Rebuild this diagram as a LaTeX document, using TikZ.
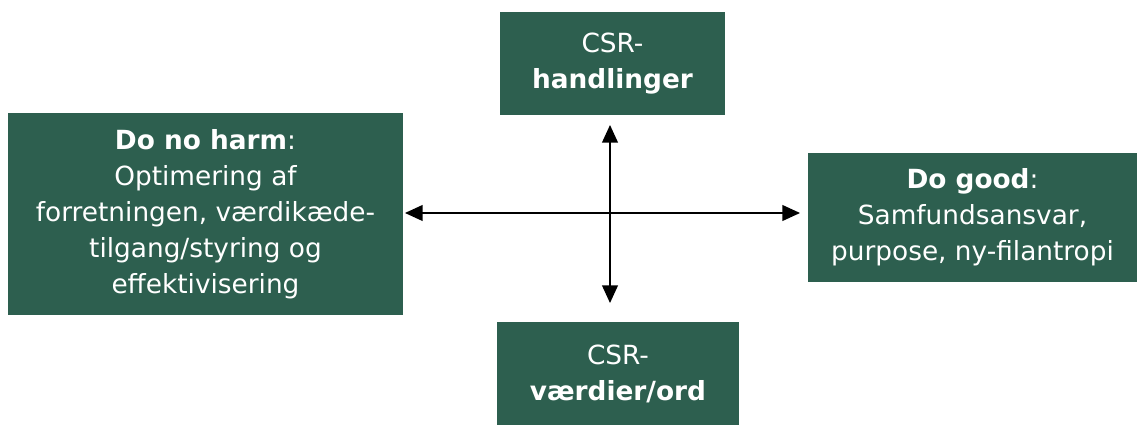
\documentclass[tikz,border=0pt]{standalone}
\usepackage{fontspec}
\setmainfont{DejaVu Sans}
\usetikzlibrary{arrows.meta, positioning}
\definecolor{boxcolor}{RGB}{45, 95, 79}

\begin{document}
\begin{tikzpicture}[x=0.02cm, y=-0.02cm, >={Triangle[length=10pt, width=9pt]}, line join=round,
  csrbox/.style={fill=boxcolor, text=white, align=center, inner sep=0pt,
    font=\fontsize{15}{20.5}\selectfont}]

  % Frame
  \useasboundingbox (0,0) rectangle (1140,425);

  % The four boxes
  \node[csrbox, minimum width=4.5cm, minimum height=2.06cm] (handlinger) at (612.5,63.5)
    {CSR-\\\textbf{handlinger}};
  \node[csrbox, minimum width=4.84cm, minimum height=2.06cm] (vaerdier) at (618,373.5)
    {CSR-\\\textbf{værdier/ord}};
  \node[csrbox, minimum width=7.9cm, minimum height=4.04cm] (harm) at (205.5,214)
    {\textbf{Do no harm}:\\Optimering af\\forretningen, værdikæde-\\tilgang/styring og\\effektivisering};
  \node[csrbox, minimum width=6.58cm, minimum height=2.58cm] (good) at (972.5,217.5)
    {\textbf{Do good}:\\Samfundsansvar,\\purpose, ny-filantropi};

  % Axis ends
  \coordinate (axleft) at (405,213);
  \coordinate (axright) at (800,213);
  \coordinate (axtop) at (610,125);
  \coordinate (axbottom) at (610,303);

  % Axes
  \draw[<->, line width=0.7pt] (axleft) -- (axright);
  \draw[<->, line width=0.7pt] (axtop) -- (axbottom);

\end{tikzpicture}
\end{document}
